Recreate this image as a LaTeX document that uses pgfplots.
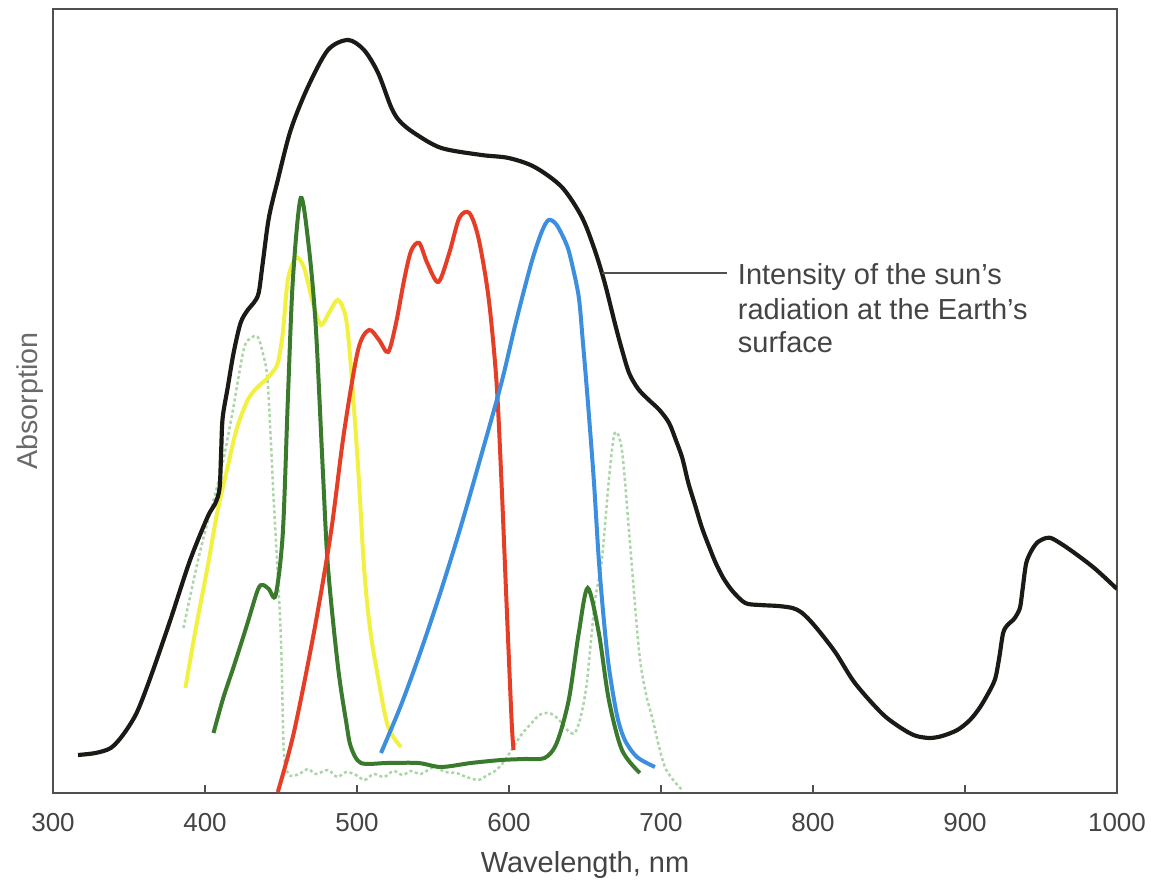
\documentclass[border=0pt]{standalone}
\usepackage{fontspec}
\setmainfont{Liberation Sans}
\usepackage{pgfplots}
\pgfplotsset{compat=1.18}

\definecolor{sunblack}{HTML}{1C1A17}
\definecolor{chlgreen}{HTML}{3A7A2C}
\definecolor{caroyel}{HTML}{F2F040}
\definecolor{phyred}{HTML}{E63E26}
\definecolor{phyblue}{HTML}{3C8FDE}
\definecolor{dotgreen}{HTML}{ABD5A6}
\definecolor{axisgray}{HTML}{505050}
\definecolor{labelgray}{HTML}{444444}

\begin{document}
\begin{tikzpicture}
% page = 1151 x 889 px, 0.3pt per px, axis box lower left at (0,0)
\path[use as bounding box] (-15.9pt,-28.8pt) rectangle (329.4pt,237.9pt);
\begin{axis}[
  scale only axis, width=319.2pt, height=235.2pt,
  xmin=300, xmax=1000, ymin=0, ymax=784,
  axis line style={draw=axisgray, line width=0.5pt},
  xtick={300,400,...,1000}, xtick pos=bottom, tick align=inside,
  major tick length=2.4pt,
  tick style={draw=axisgray, line width=0.5pt},
  ytick=\empty,
  /pgf/number format/assume math mode=true,
  /pgf/number format/1000 sep={},
  xticklabel style={font=\fontsize{7.8pt}{9pt}\selectfont, text=labelgray},
  xticklabel shift=2.5pt,
  xlabel={Wavelength, nm},
  xlabel style={at={(axis description cs:0.5,-0.102)}, anchor=base,
    font=\fontsize{8.7pt}{10pt}\selectfont, text=labelgray},
  ylabel={Absorption},
  ylabel style={at={(axis description cs:-0.022,0.5)}, anchor=center,
    font=\fontsize{8.6pt}{10pt}\selectfont, text=labelgray!80},
  every axis plot/.append style={smooth, tension=0.5, line width=1.2pt},
]

% dotted pale green
\addplot[dotgreen, line width=0.75pt, dash pattern=on 0.9pt off 0.8pt] coordinates {
(385.8,165) (397,243) (410.2,320) (418,380) (425.4,443) (430,455) (434.7,456)
(438,440) (441.3,410) (445.2,293) (449.8,160) (451.8,43) (454.5,20) (458,17)
(463,20) (468,24) (473,19) (480.9,23) (487,16) (493,21) (499.3,18) (505,13)
(511,19) (517.8,16) (524,22) (530,18) (535.6,22) (542,19) (550.8,26) (558,21)
(565.3,20) (572,16) (579.9,13) (586,18) (591.7,23) (597,32) (601.7,43)
(608,58) (614.9,70) (620,78) (626.1,80) (631,76) (634.7,70) (639,62) (643.2,60)
(647,75) (651.2,110) (656.4,190) (661.1,233) (665.7,313) (669.6,360)
(674.3,343) (678.9,263) (685.5,143) (690,100) (694.1,76) (702.6,26) (713.9,3)
};

% yellow
\addplot[caroyel] coordinates {
(387.1,105) (394,165) (401.7,226) (408,280) (414.9,326) (421,365) (428.1,393)
(434,405) (439.9,413) (444,420) (447.9,430) (451.2,460) (454.5,513) (459.7,535)
(465,526) (471,490) (476.2,468) (481.5,480) (487.5,493) (492.7,475) (496,426)
(500.7,326) (504.6,226) (508.5,165) (513.9,115) (520.5,66) (529,46)
};

% dark green
\addplot[chlgreen] coordinates {
(405.6,60) (412,95) (418.8,126) (427,165) (434.7,203) (438,208) (442,204)
(446.5,198) (451.2,260) (454.5,393) (457.8,513) (463,595) (468.3,546)
(472.9,466) (477.6,320) (480.9,226) (487.5,126) (493,70) (496,46) (502.6,30)
(520,30) (540.3,30) (555.4,26) (575,30) (595,33) (610,34) (623.4,35) (631.4,50)
(639.3,93) (645.9,160) (651.8,205) (659.1,160) (665.7,93) (674.3,43) (686.1,20)
};

% red
\addplot[phyred] coordinates {
(447.9,1) (458.4,60) (471.6,160) (482.8,260) (491.4,360) (500.7,443)
(507.9,463) (514.5,453) (520.5,441) (525.7,470) (531,513) (535.6,542)
(540.9,550) (546.2,530) (553.5,511) (560.7,540) (567.3,575) (573.9,580)
(579.9,555) (586.5,496) (591.7,413) (595,313) (598.3,193) (601.7,73) (603,43)
};

% blue
\addplot[phyblue] coordinates {
(515.8,40) (529,88) (542.2,143) (555.4,203) (568.6,268) (581.8,338)
(595,410) (604.9,473) (614.9,531) (621.5,561) (626.1,573) (631.4,568)
(638,548) (641.3,530) (645.9,496) (648.5,453) (651.8,393) (655.8,313)
(659.1,233) (662.4,173) (665.7,126) (671,78) (676.2,53) (684.2,36) (696,26)
};

% intensity of the sun's radiation
\addplot[sunblack, line width=1.25pt] coordinates {
(316.5,38) (328,40) (338,45) (346,58) (355,80) (364,115) (377,172) (390,232)
(401.7,276) (406.9,290) (409.6,305) (410.6,340) (411.6,375) (414.9,405)
(418.8,440) (423.4,470) (428.1,483) (432,490) (435.3,500) (438,530) (442,575)
(447.9,613) (456.4,663) (467.7,706) (480.9,743) (494.1,753) (504.6,743)
(513.9,720) (522.4,686) (528,672) (537.6,660) (555.4,645) (581.8,638)
(599.7,635) (616.8,626) (634.7,606) (647.9,576) (656.4,543) (663,510)
(669.6,470) (674,445) (679,420) (685,404) (692,393) (699,383) (705.3,370)
(710,352) (714,335) (718,310) (722.4,288) (727,265) (732,245) (736,230)
(741,215) (747,202) (755.4,190) (765,188) (777,187) (786.5,185) (792,181)
(797.7,173) (805,160) (815,140) (826.1,113) (837,93) (847.9,76) (860,63)
(868,57) (876.9,55) (885,57) (895,63) (903.3,73) (910,86) (916.5,103)
(920,115) (922.5,135) (925.1,160) (928,168) (931.7,173) (934,178) (936.3,186)
(938,205) (940.3,230) (944,243) (948,251) (953.5,255) (958,254) (969.3,243)
(985,225) (1000,204)
};

% annotation
\draw[axisgray, line width=0.5pt] (axis cs:661,520) -- (axis cs:743.6,520);
\begin{scope}[every node/.style={anchor=base west, inner sep=0pt,
    font=\fontsize{8.7pt}{10pt}\selectfont, text=labelgray}]
\node at (axis cs:750.2,508) {Intensity of the sun's};
\node at (axis cs:750.2,473) {radiation at the Earth's};
\node at (axis cs:750.2,440) {surface};
\end{scope}
\end{axis}
\end{tikzpicture}
\end{document}
